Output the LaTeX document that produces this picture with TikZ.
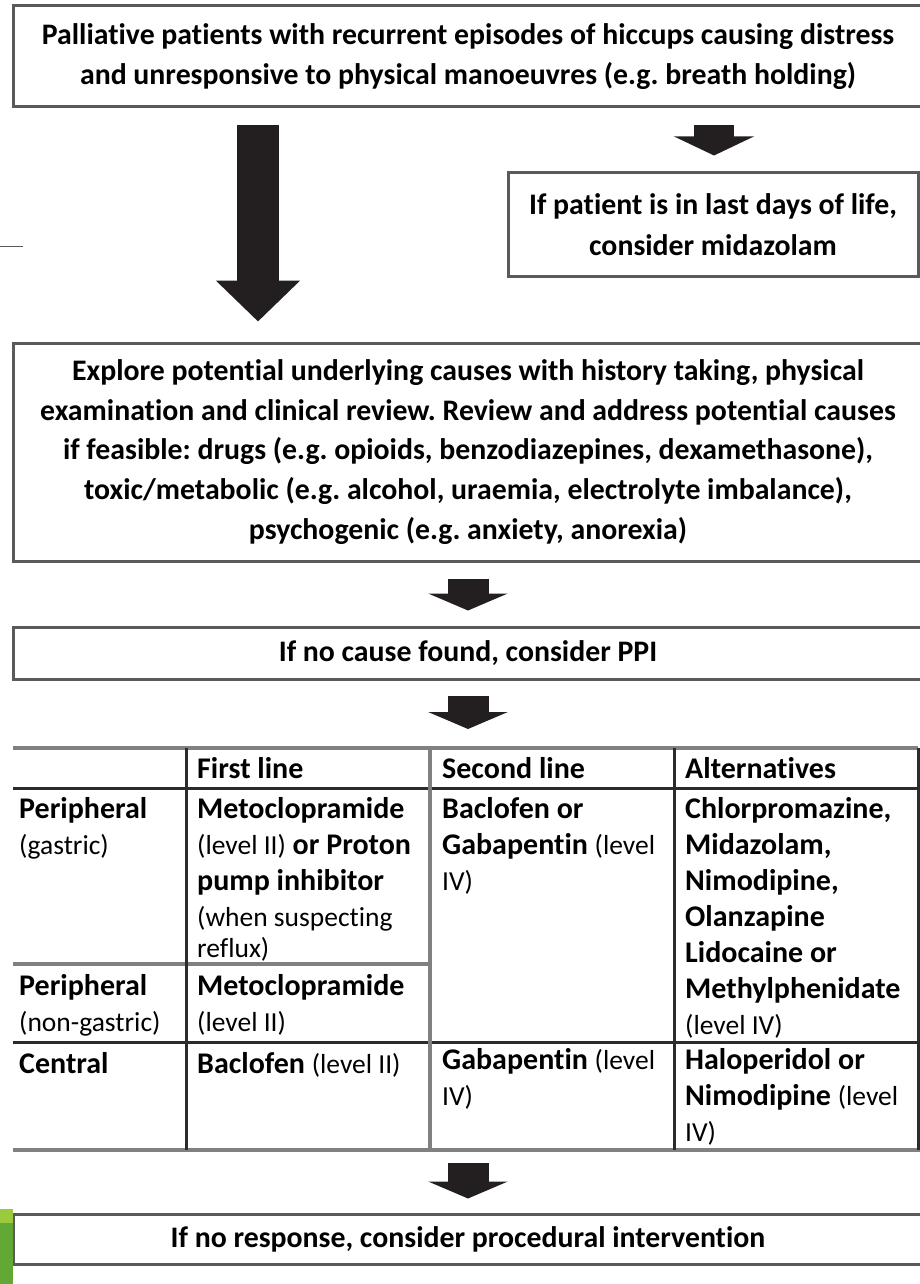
\documentclass[tikz,border=0pt]{standalone}
\usepackage{fontspec}
\setmainfont{Carlito}[Ligatures=NoCommon]
\frenchspacing
\usetikzlibrary{arrows.meta,positioning}

\definecolor{boxgray}{HTML}{5A5A5A}
\definecolor{tabdark}{HTML}{2B2B2B}
\definecolor{tabgray}{HTML}{808080}
\definecolor{arrowblack}{HTML}{231F20}
\definecolor{greenlight}{HTML}{9BCB3C}
\definecolor{greendark}{HTML}{62A834}

\newcommand{\boxfont}{\fontsize{29.8}{40.5}\selectfont\bfseries}
\newcommand{\cellfont}{\fontsize{30}{36}\selectfont\bfseries}
\newcommand{\lvl}[1]{{\fontsize{27.5}{36}\selectfont\mdseries #1}}

\begin{document}
\begin{tikzpicture}[x=1pt, y=-1pt,
  box/.style={draw=boxgray, line width=3pt, minimum width=910pt, inner sep=0pt, align=center, font=\boxfont},
  bigarrow/.style={arrowblack, line width=42pt, -{Triangle[length=41pt, width=82pt]}},
  smallarrow/.style={arrowblack, line width=41pt, -{Triangle[length=17pt, width=79pt]}},
  cell/.style={anchor=north west, inner sep=0pt, align=left, font=\cellfont, execute at begin node=\strut},
  darkline/.style={draw=tabdark, line width=3pt},
  grayline/.style={draw=tabgray, line width=3.5pt}]

\useasboundingbox (0,0) rectangle (920,1284);

% boxes
\node[box, minimum height=101pt] (start) at (468,56.5)
  {Palliative patients with recurrent episodes of hiccups causing distress\\
   and unresponsive to physical manoeuvres (e.g. breath holding)};
\node[box, minimum width=410pt, minimum height=103pt] (lastdays) at (713,224.5)
  {If patient is in last days of life,\\ consider midazolam};
\node[box, minimum height=218pt, font=\fontsize{29.8}{39.6}\selectfont\bfseries] (explore) at (468,452)
  {Explore potential underlying causes with history taking, physical\\
   examination and clinical review. Review and address potential causes\\
   if feasible: drugs (e.g. opioids, benzodiazepines, dexamethasone),\\
   toxic/metabolic (e.g. alcohol, uraemia, electrolyte imbalance),\\
   psychogenic (e.g. anxiety, anorexia)};
\node[box, minimum height=52pt] (ppi) at (468,653) {If no cause found, consider PPI};
\node[box, minimum height=50pt] (procedural) at (468,1239)
  {If no response, consider procedural intervention};

% stray tick at the left
\draw[boxgray, line width=1pt] (0,246) -- (23,246);

% green stripe
\fill[greenlight] (0,1209) rectangle (13,1223);
\fill[greendark] (0,1223) rectangle (13,1284);

% table grid
\coordinate (tabletop) at (468,748);
\coordinate (tablebottom) at (468,1150);
\draw[grayline] (13,748) -- (918,748);
\draw[darkline] (13,788) -- (918,788);
\draw[grayline] (13,964) -- (430,964);
\draw[darkline] (13,1042) -- (918,1042);
\draw[grayline] (13,1150) -- (920,1150);
\draw[darkline] (186,748) -- (186,1150);
\draw[grayline] (430,748) -- (430,1150);
\draw[darkline] (674,748) -- (674,1150);
\draw[darkline] (918,748) -- (918,1150);

% header row
\node[cell] (hfirst)  at (197,753) {First line};
\node[cell] (hsecond) at (442,753) {Second line};
\node[cell] (halt)    at (685,753) {Alternatives};

% peripheral (gastric)
\node[cell] (pgastric) at (19,797) {Peripheral\\ \lvl{(gastric)}};
\node[cell] (pgfirst)  at (197,797)
  {Metoclopramide\\ \lvl{(level II)} or Proton\\ pump inhibitor\\
   \lvl{(when suspecting}\\[-5pt] \lvl{reflux)}};
\node[cell] (psecond) at (442,797) {Baclofen or\\ Gabapentin \lvl{(level}\\ \lvl{IV)}};
\node[cell] (palt) at (685,797)
  {Chlorpromazine,\\ Midazolam,\\ Nimodipine,\\ Olanzapine\\ Lidocaine or\\
   Methylphenidate\\ \lvl{(level IV)}};

% peripheral (non-gastric)
\node[cell] (pnongastric) at (19,974) {Peripheral\\ \lvl{(non-gastric)}};
\node[cell] (pnfirst) at (197,974) {Metoclopramide\\ \lvl{(level II)}};

% central
\node[cell] (central)  at (19,1048) {Central};
\node[cell] (cfirst)   at (197,1048) {Baclofen \lvl{(level II)}};
\node[cell] (csecond)  at (442,1048) {Gabapentin \lvl{(level}\\ \lvl{IV)}};
\node[cell] (calt)     at (685,1048) {Haloperidol or\\ Nimodipine \lvl{(level}\\ \lvl{IV)}};

% arrows
\coordinate (leftx) at (258,0);
\coordinate (rightx) at (714,0);
\coordinate (midx) at (468,0);
\draw[bigarrow, shorten <=17pt, shorten >=20pt] (start.south -| leftx) -- (explore.north -| leftx);
\draw[smallarrow, -{Triangle[length=19pt, width=79pt]}, line width=40pt, shorten <=17pt, shorten >=16pt]
  (start.south -| rightx) -- (lastdays.north -| rightx);
\draw[smallarrow, shorten <=16pt, shorten >=15pt] (explore.south -| midx) -- (ppi.north -| midx);
\draw[smallarrow, shorten <=15pt, shorten >=19pt] (ppi.south -| midx) -- (tabletop);
\draw[smallarrow, shorten <=13pt, shorten >=14pt] (tablebottom) -- (procedural.north -| midx);

\end{tikzpicture}
\end{document}
